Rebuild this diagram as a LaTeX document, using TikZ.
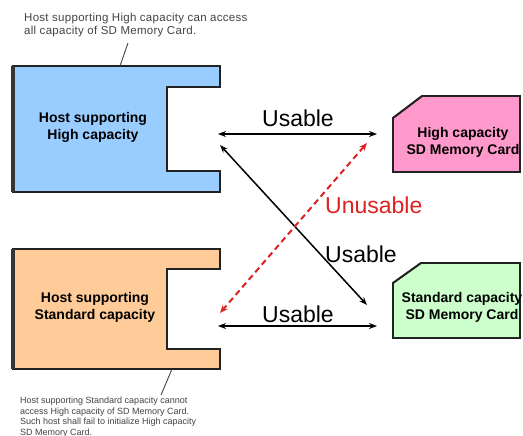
\documentclass[tikz,border=0pt]{standalone}
\usepackage{fontspec}
\setmainfont{Liberation Sans}
\newfontfamily\notefont[LetterSpace=2.5]{Liberation Sans}
\usetikzlibrary{arrows.meta}
\definecolor{hostblue}{HTML}{99CCFF}
\definecolor{hostorange}{HTML}{FFCC99}
\definecolor{cardpink}{HTML}{FF99CC}
\definecolor{cardgreen}{HTML}{CCFFCC}
\definecolor{edgegray}{HTML}{222222}
\definecolor{notegray}{HTML}{444444}
\definecolor{nogored}{HTML}{DD2222}
\tikzset{
  outline/.style={draw=edgegray, line width=1.6pt, line join=miter},
  sideedge/.style={draw=edgegray!80!gray, line width=3.2pt},
  cardedge/.style={draw=edgegray, line width=1.9pt},
  boxlabel/.style={align=center, font=\fontsize{14}{17}\selectfont\bfseries, inner sep=0pt},
  biglabel/.style={anchor=base west, font=\fontsize{23}{26}\selectfont, inner sep=0pt},
  note/.style={anchor=north west, align=left, text=notegray, inner sep=0pt},
  leader/.style={draw=notegray, line width=0.9pt},
  usable/.style={draw=black, line width=1.5pt, {Stealth[length=8pt,width=6pt]}-{Stealth[length=8pt,width=6pt]}},
  unusable/.style={draw=nogored, line width=2pt, dash pattern=on 6pt off 4pt,
    {Stealth[length=8pt,width=6.5pt]}-{Stealth[length=8pt,width=6.5pt]}}
}
\begin{document}
\begin{tikzpicture}[x=1pt, y=-1pt]
\useasboundingbox[fill=white] (0,0) rectangle (523,436);

% host with High capacity support
\path[fill=hostblue, outline] (13,66) -- (220,66) -- (220,87) -- (167,87) -- (167,171)
  -- (220,171) -- (220,192) -- (13,192) -- cycle;
\draw[sideedge] (13,66) -- (13,192);
\node[boxlabel] (hostHigh) at (93,127) {Host supporting\\High capacity};

% host with Standard capacity support
\path[fill=hostorange, outline] (13,249) -- (220,249) -- (220,269) -- (167,269) -- (167,349)
  -- (220,349) -- (220,369) -- (13,369) -- cycle;
\draw[sideedge] (13,249) -- (13,369);
\node[boxlabel] (hostStd) at (95,307) {Host supporting\\Standard capacity};

% High capacity card
\path[fill=cardpink, outline] (393,118) -- (422,96) -- (520,96) -- (520,172) -- (393,172) -- cycle;
\draw[cardedge] (422,96) -- (393,118) -- (393,172) -- (520,172);
\node[boxlabel] (cardHigh) at (463,142) {High capacity\\SD Memory Card};

% Standard capacity card
\path[fill=cardgreen, outline] (393,283) -- (421,263) -- (520,263) -- (520,338) -- (393,338) -- cycle;
\draw[cardedge] (421,263) -- (393,283) -- (393,338) -- (520,338);
\node[boxlabel] (cardStd) at (462,307) {Standard capacity\\SD Memory Card};

% arrow end points in the gaps
\coordinate (hHtop) at (218,134);
\coordinate (cHtop) at (377,134);
\coordinate (hSbot) at (218,326);
\coordinate (cSbot) at (377,326);
\coordinate (hHdiag) at (220,145);
\coordinate (cSdiag) at (367,305);
\coordinate (cHdiag) at (367,143);
\coordinate (hSdiag) at (220,313);

% connections
\draw[usable] (hHtop) -- (cHtop);
\draw[usable] (hSbot) -- (cSbot);
\draw[usable] (hHdiag) -- (cSdiag);
\draw[unusable] (cHdiag) -- (hSdiag);

\node[biglabel] (lblTop) at (262,127) {Usable};
\node[biglabel] (lblBot) at (262,322) {Usable};
\node[biglabel] (lblMid) at (325,262) {Usable};
\node[biglabel, text=nogored] (lblNo) at (325,213) {Unusable};

% notes
\node[note, font=\notefont\fontsize{11.5}{12.5}\selectfont] (noteTop) at (24,13)
  {Host supporting High capacity can access\\all capacity of SD Memory Card.};
\coordinate (noteTopTip) at (128,43);
\coordinate (hostHighTop) at (120,66);
\draw[leader] (hostHighTop) -- (noteTopTip);

\node[note, font=\fontsize{9}{10.5}\selectfont] (noteBot) at (20,397)
  {Host supporting Standard capacity cannot\\access High capacity of SD Memory Card.\\Such host shall fail to initialize High capacity\\SD Memory Card.};
\coordinate (noteBotTip) at (161,395);
\coordinate (hostStdBottom) at (172,369);
\draw[leader] (hostStdBottom) -- (noteBotTip);
\end{tikzpicture}
\end{document}
